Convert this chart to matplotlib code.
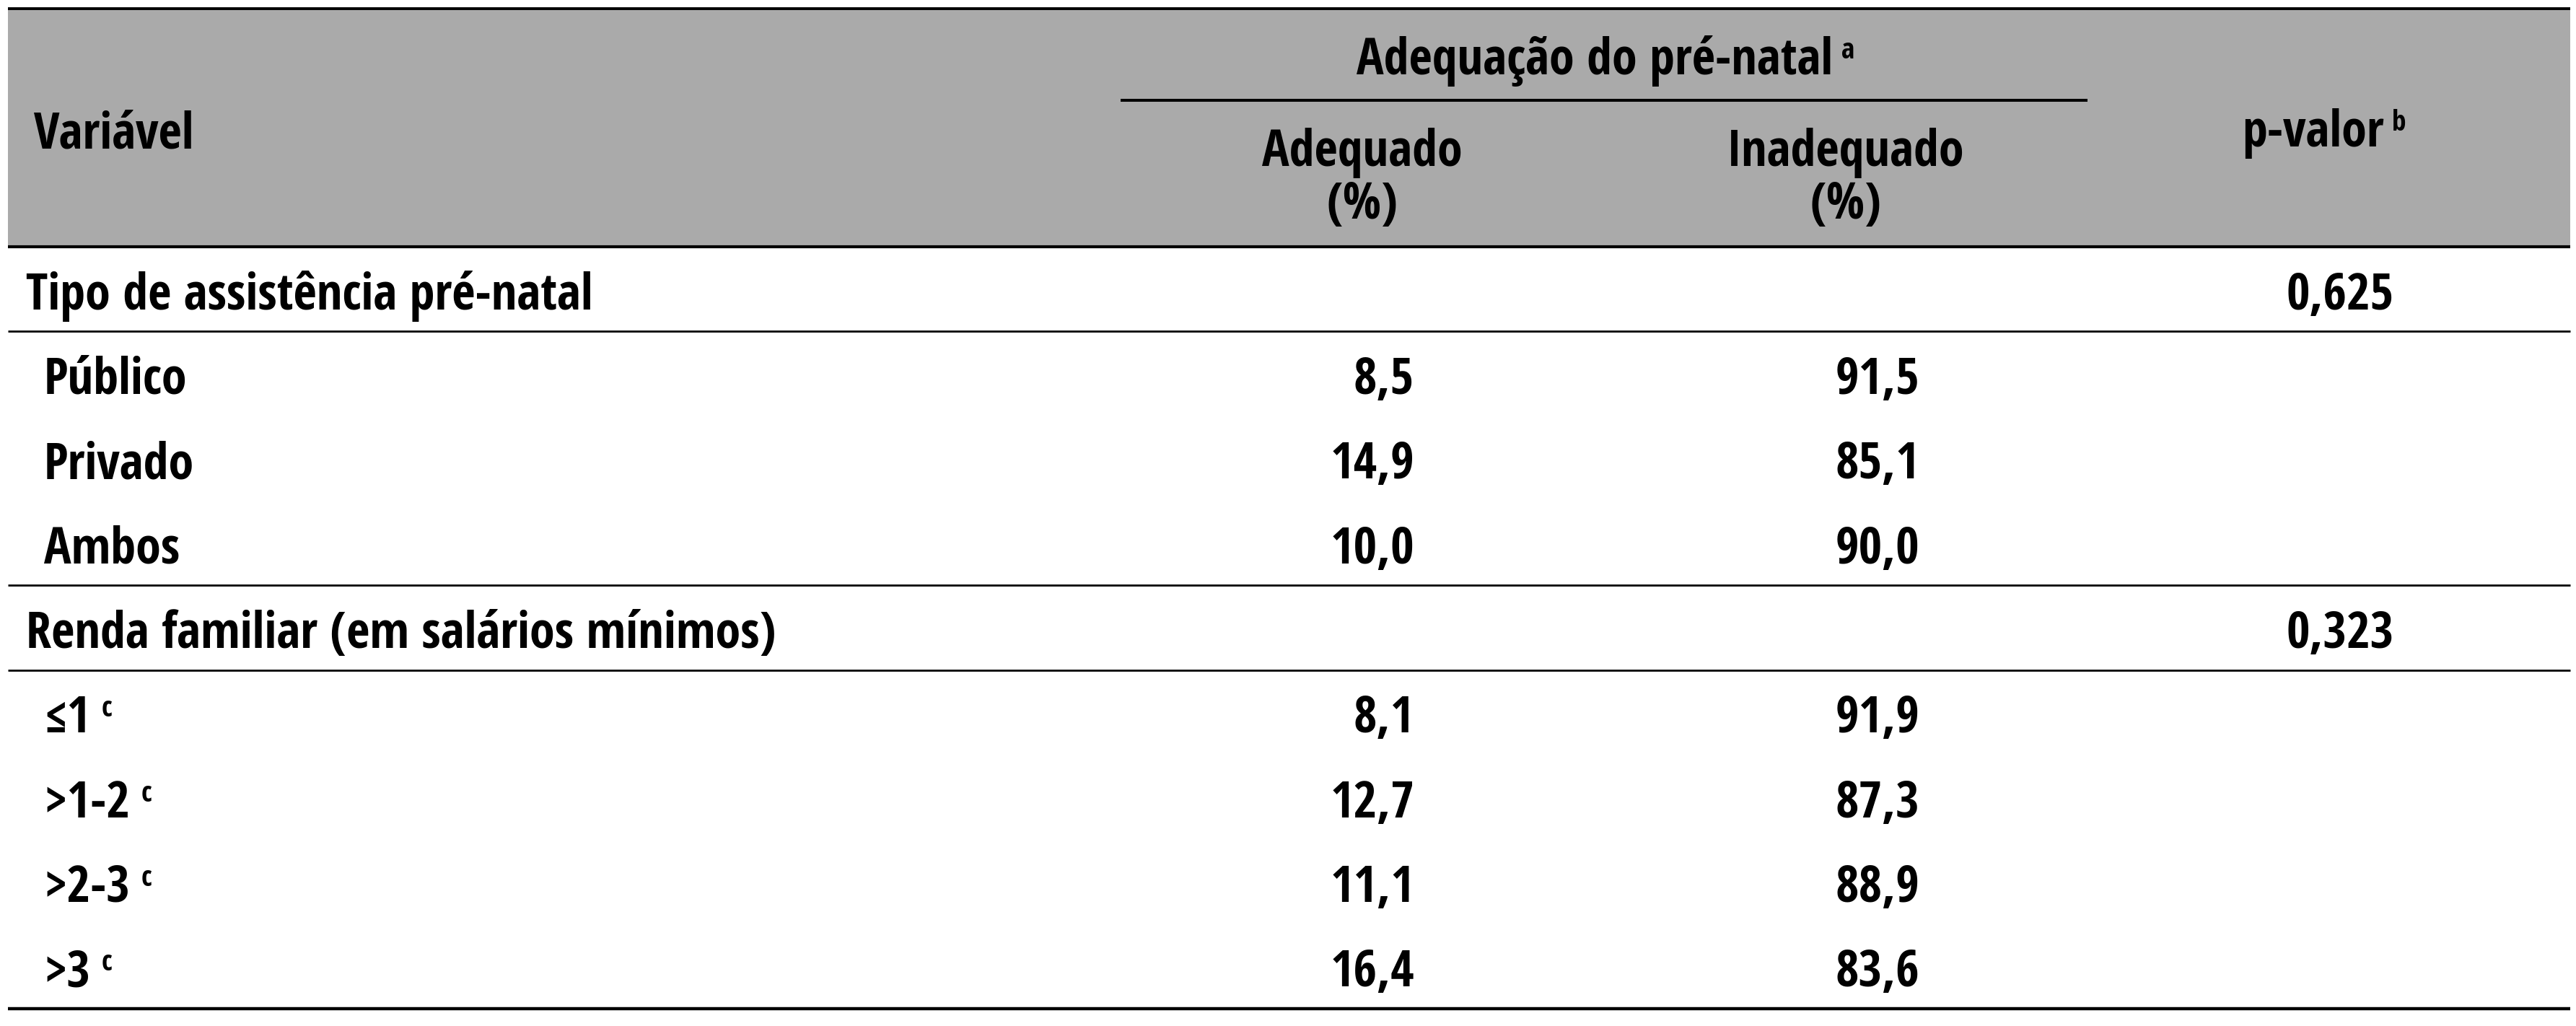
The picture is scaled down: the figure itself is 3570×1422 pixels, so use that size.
"""Tabela: adequação do pré-natal por tipo de assistência e renda familiar."""

import os

import matplotlib

matplotlib.use("Agg")
import matplotlib.pyplot as plt
from matplotlib import font_manager
from matplotlib.patches import Rectangle
from matplotlib.textpath import TextPath

# --- data -------------------------------------------------------------------
secoes = ["Tipo de assistência pré-natal", "Renda familiar (em salários mínimos)"]
p_valores = [0.625, 0.323]

tipo_labels = ["Público", "Privado", "Ambos"]
tipo_adequado = [8.5, 14.9, 10.0]
tipo_inadequado = [91.5, 85.1, 90.0]

renda_labels = ["≤1", ">1-2", ">2-3", ">3"]
renda_adequado = [8.1, 12.7, 11.1, 16.4]
renda_inadequado = [91.9, 87.3, 88.9, 83.6]

cabecalho = ["Variável", "Adequação do pré-natal", "Adequado\n(%)", "Inadequado\n(%)", "p-valor"]


def _pick_font():
    """Find a bold condensed face file; fall back to DejaVu condensed."""
    wanted = [
        "notosans-extracondensedbold.ttf",
        "opensans-condbold.ttf",
        "opensanscondensed-bold.ttf",
        "robotocondensed-bold.ttf",
        "roboto_condensed-bold.ttf",
        "notosans-condensedbold.ttf",
        "liberationsansnarrow-bold.ttf",
        "dejavusanscondensed-bold.ttf",
    ]
    entries = {os.path.basename(f.fname).lower(): f.fname for f in font_manager.fontManager.ttflist}
    for w in wanted:
        if w in entries:
            return font_manager.FontProperties(fname=entries[w])
    return font_manager.FontProperties(family="DejaVu Sans", weight="bold", stretch="condensed")


FP = _pick_font()

# size the font so cap height (~52 px) and the width of the first section
# label (~756 px) are both roughly matched
_cap = TextPath((0, 0), "H", size=1, prop=FP).get_extents().height
_wid = TextPath((0, 0), secoes[0], size=1, prop=FP).get_extents().width
_px = ((52 / _cap) * (756 / _wid)) ** 0.5
FS = _px * 0.72
FS_SUP = FS * 0.56
SUP_RAISE = 22

W, H = 3570, 1422
X0, X1 = 11, 3562
Y_TOP, Y_HEAD = 12, 342
Y_BOTTOM = 1398
COL_LABEL, COL_SUB = 36, 61
COL_ADEQ, COL_INAD, COL_P = 1960, 2660, 3318   # right edges of numbers
HEAD_ADEQ, HEAD_INAD, HEAD_P = 1888, 2558, 3205
GRAY = "#aaaaaa"


def fmt(v, nd=1):
    return f"{v:.{nd}f}".replace(".", ",")


fig = plt.figure(figsize=(W / 100, H / 100), dpi=100)
ax = fig.add_axes([0, 0, 1, 1])
ax.set_xlim(0, W)
ax.set_ylim(H, 0)
ax.axis("off")
renderer = fig.canvas.get_renderer()


def txt(x, y, s, ha="left", size=FS):
    return ax.text(x, y, s, ha=ha, va="baseline", fontproperties=FP, fontsize=size, color="black")


def sup(t, s, gap=12):
    """Superscript placed right after text artist t."""
    bb = t.get_window_extent(renderer)
    x_end, _ = ax.transData.inverted().transform((bb.x1, bb.y0))
    x, y = t.get_position()
    txt(x_end + gap, y - SUP_RAISE, s, size=FS_SUP)


# header band
ax.add_patch(Rectangle((X0, Y_TOP), X1 - X0, Y_HEAD - Y_TOP, color=GRAY, lw=0, zorder=0))
txt(47, 205, cabecalho[0])
t = txt(2210, 103, cabecalho[1], ha="center")
sup(t, "a")
ax.hlines(139, 1553, 2893, color="black", lw=2.9)
for xc, lab in [(HEAD_ADEQ, cabecalho[2]), (HEAD_INAD, cabecalho[3])]:
    top, bot = lab.split("\n")
    txt(xc, 230, top, ha="center")
    txt(xc, 303, bot, ha="center")
t = txt(HEAD_P, 203, cabecalho[4], ha="center")
sup(t, "b")

# body rows
linhas = []  # (label, adequado, inadequado, pvalor, is_section, sup)
linhas.append((secoes[0], None, None, p_valores[0], True, None))
for lab, a, i in zip(tipo_labels, tipo_adequado, tipo_inadequado):
    linhas.append((lab, a, i, None, False, None))
linhas.append((secoes[1], None, None, p_valores[1], True, None))
for lab, a, i in zip(renda_labels, renda_adequado, renda_inadequado):
    linhas.append((lab, a, i, None, False, "c"))

row_h = (Y_BOTTOM - Y_HEAD) / len(linhas)
for k, (lab, a, i, p, is_sec, s) in enumerate(linhas):
    top = Y_HEAD + k * row_h
    base = top + row_h / 2 + 28
    t = txt(COL_LABEL if is_sec else COL_SUB, base, lab)
    if s:
        sup(t, s, gap=16)
    if a is not None:
        txt(COL_ADEQ, base, fmt(a), ha="right")
        txt(COL_INAD, base, fmt(i), ha="right")
    if p is not None:
        txt(COL_P, base, fmt(p, 3), ha="right")
    if is_sec:
        # thin rules around the section rows
        if k > 0:
            ax.hlines(top, X0, X1, color="black", lw=2.0)
        ax.hlines(top + row_h, X0, X1, color="black", lw=2.0)

# outer rules
ax.hlines(Y_TOP, X0, X1, color="black", lw=2.8)
ax.hlines(Y_HEAD, X0, X1, color="black", lw=3.0)
ax.hlines(Y_BOTTOM, X0, X1, color="black", lw=3.2)

fig.savefig("out.png", dpi=100)
plt.close(fig)
